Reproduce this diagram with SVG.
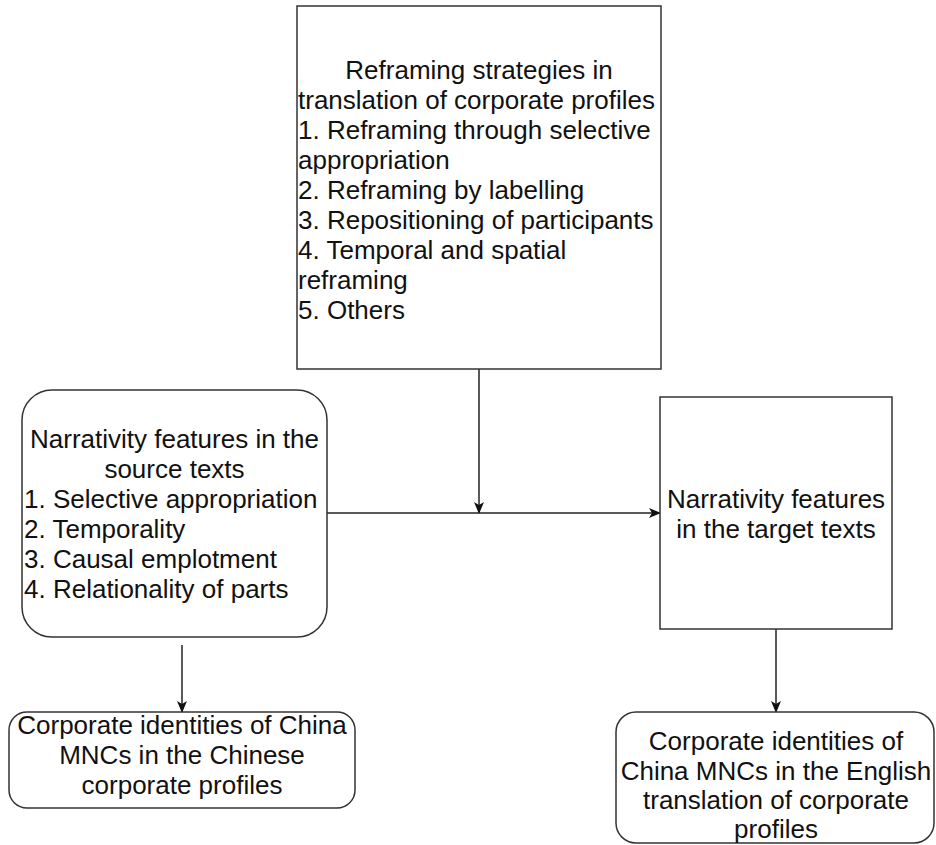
<svg xmlns="http://www.w3.org/2000/svg" width="936" height="845" viewBox="0 0 936 845">
<style>
.box{fill:#fff;stroke:#333;stroke-width:1.5}
.t{font-family:"Liberation Sans",Arial,Helvetica,sans-serif;font-size:26px;fill:#111}
.c{text-anchor:middle}
.edge{fill:none;stroke:#222;stroke-width:1.5}
</style>
<defs>
<marker id="arr" viewBox="0 0 12 10" refX="11" refY="5" markerWidth="12" markerHeight="10" markerUnits="userSpaceOnUse" orient="auto">
<path d="M0,0 L12,5 L0,10 L3,5 z" fill="#111"/>
</marker>
</defs>
<rect width="936" height="845" fill="#fff"/>
<g id="connectors">
<line class="edge" x1="479" y1="369" x2="479" y2="513" marker-end="url(#arr)"/>
<line class="edge" x1="327" y1="513" x2="660" y2="513" marker-end="url(#arr)"/>
<line class="edge" x1="182" y1="645" x2="182" y2="712" marker-end="url(#arr)"/>
<line class="edge" x1="776" y1="629" x2="776" y2="712" marker-end="url(#arr)"/>
</g>
<g id="node-strategies">
<rect class="box" x="297" y="6" width="364" height="363"/>
<text class="t c" x="479" y="79">Reframing strategies in</text>
<text class="t" x="298" y="109">translation of corporate profiles</text>
<text class="t" x="298" y="139">1. Reframing through selective</text>
<text class="t" x="298" y="169">appropriation</text>
<text class="t" x="298" y="199">2. Reframing by labelling</text>
<text class="t" x="298" y="229">3. Repositioning of participants</text>
<text class="t" x="298" y="259">4. Temporal and spatial</text>
<text class="t" x="298" y="289">reframing</text>
<text class="t" x="298" y="319">5. Others</text>
</g>
<g id="node-source">
<rect class="box" x="22" y="390" width="305" height="247" rx="30" ry="30"/>
<text class="t c" x="174.5" y="448">Narrativity features in the</text>
<text class="t c" x="174.5" y="478">source texts</text>
<text class="t" x="24" y="508">1. Selective appropriation</text>
<text class="t" x="24" y="538">2. Temporality</text>
<text class="t" x="24" y="568">3. Causal emplotment</text>
<text class="t" x="24" y="598">4. Relationality of parts</text>
</g>
<g id="node-target">
<rect class="box" x="660" y="397" width="232" height="232"/>
<text class="t c" x="776" y="508">Narrativity features</text>
<text class="t c" x="776" y="538">in the target texts</text>
</g>
<g id="node-identities-zh">
<rect class="box" x="9" y="712" width="346" height="96" rx="18" ry="18"/>
<text class="t c" x="182" y="734">Corporate identities of China</text>
<text class="t c" x="182" y="764">MNCs in the Chinese</text>
<text class="t c" x="182" y="794">corporate profiles</text>
</g>
<g id="node-identities-en">
<rect class="box" x="616" y="712" width="318" height="131" rx="20" ry="20"/>
<text class="t c" x="776" y="750">Corporate identities of</text>
<text class="t c" x="776" y="780">China MNCs in the English</text>
<text class="t c" x="776" y="809">translation of corporate</text>
<text class="t c" x="776" y="838">profiles</text>
</g>
</svg>
